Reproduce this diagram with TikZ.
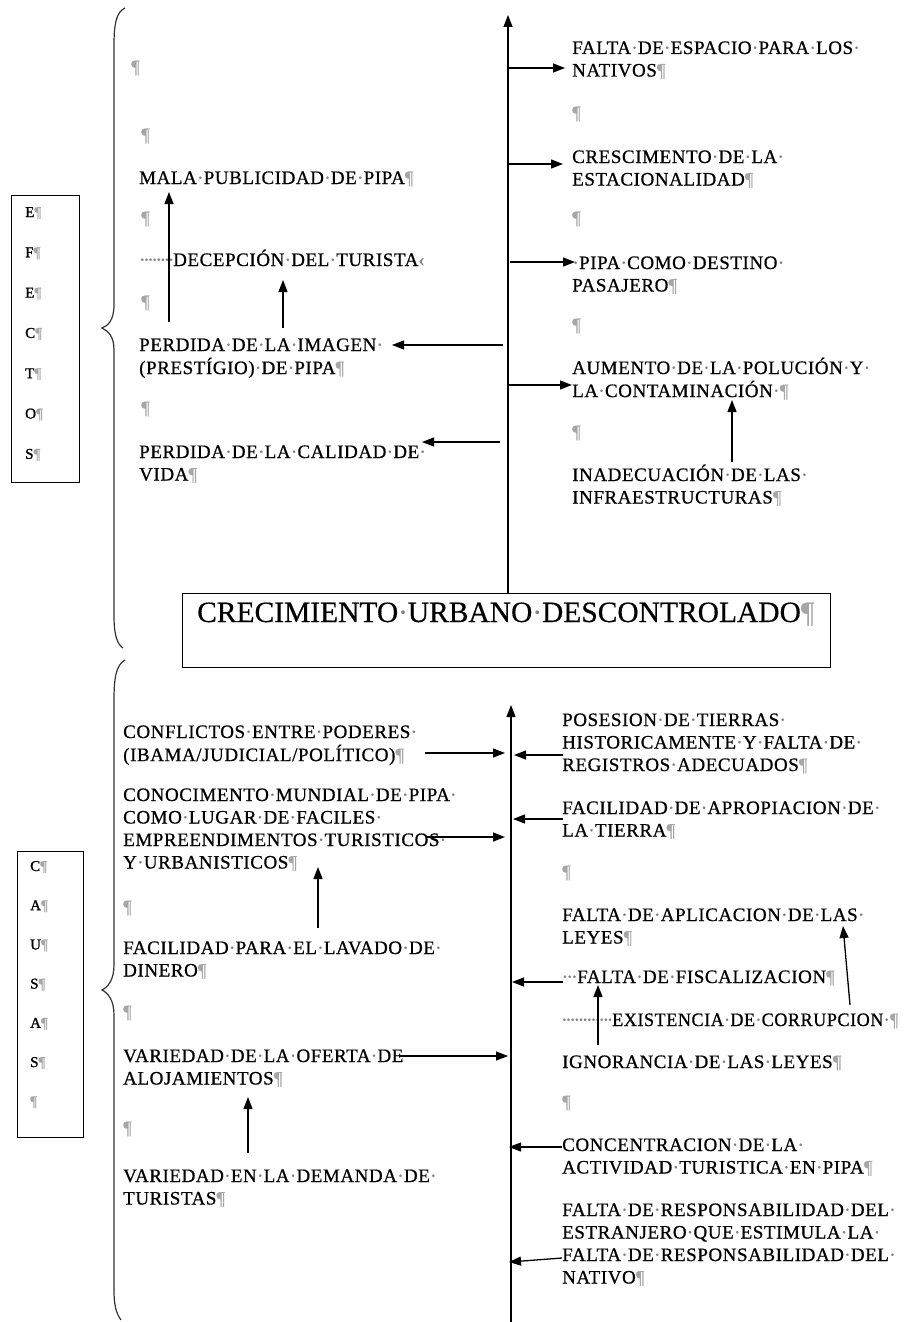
\documentclass[tikz,border=0pt]{standalone}
\usepackage{fontspec}
\setmainfont{Liberation Serif}
\newfontfamily\bodyfont[LetterSpace=3,FakeBold=0.7]{Liberation Serif}
\newfontfamily\boxfont[FakeBold=1.2]{Liberation Serif}
\newfontfamily\titlefont[FakeBold=0.4]{Liberation Serif}
\usetikzlibrary{arrows.meta}
\newcommand{\ml}[1]{\begin{tabular}[t]{@{}l@{}}#1\end{tabular}}
\newcommand{\dleader}[1]{\makebox[#1][l]{\color{gray}\xleaders\hbox to 4pt{\hss\char"B7\hss}\hfill}}
\catcode`\·=\active
\def·{\hbox to 1.3\fontdimen2\font{\hss\textcolor{gray}{\char"B7}\hss}}
\catcode`\¶=\active
\def¶{\textcolor{gray!70}{\char"B6}}
\begin{document}
\begin{tikzpicture}[x=1pt,y=-1pt,
  txt/.style={anchor=base west, inner sep=0pt, font=\bodyfont\fontsize{19}{22.5}\selectfont},
  arr/.style={line width=1.3pt, -{Triangle[length=12pt,width=9pt]}},
  brace/.style={line width=1.2pt, draw=black!80},
  lbl/.style={anchor=base west, inner sep=0pt, font=\boxfont\fontsize{15}{15}\selectfont},
  frame/.style={draw, line width=1pt}]
\useasboundingbox[fill=white] (0,0) rectangle (906,1322);

% ---------- left boxes ----------
\node[frame, anchor=north west, minimum width=68pt, minimum height=287pt, inner sep=0pt] (efbox) at (11,195) {};
\foreach \l [count=\i from 0] in {E,F,E,C,T,O,S}
  \node[lbl] (ef\i) at (25,{212+40.3*\i+5}) {\l¶};
\node[frame, anchor=north west, minimum width=66pt, minimum height=286pt, inner sep=0pt] (cabox) at (17,851) {};
\foreach \l [count=\i from 0] in {C,A,U,S,A,S}
  \node[lbl] (ca\i) at (30,{866+39.2*\i+5}) {\l¶};
\node[lbl] (ca6) at (30,{866+39.2*6+5}) {¶};

% ---------- braces ----------
\draw[brace] (125,8) .. controls (116,12) and (114,25) .. (114,45) -- (114,305)
  .. controls (114,320) and (108,326) .. (102,328)
  .. controls (108,331) and (114,336) .. (114,350) -- (114,615)
  .. controls (114,635) and (117,644) .. (123,648);
\draw[brace] (125,660) .. controls (116,665) and (114,678) .. (114,700) -- (114,965)
  .. controls (114,980) and (108,987) .. (102,990)
  .. controls (108,993) and (114,1000) .. (114,1015) -- (114,1290)
  .. controls (114,1305) and (116,1313) .. (121,1320);

% ---------- title ----------
\node[frame, anchor=north west, minimum width=648pt, minimum height=74pt, inner sep=0pt] (title) at (182,593) {};
\node[anchor=base west, inner sep=0pt, font=\titlefont\fontsize{29.5}{29.5}\selectfont] (titletxt) at (197,622) {CRECIMIENTO·URBANO·DESCONTROLADO¶};

% ---------- effects: left ----------
\node[txt] (L0) at (131,73) {¶};
\node[txt] (L1) at (141,141) {¶};
\node[txt] (L2) at (139,184) {MALA·PUBLICIDAD·DE·PIPA¶};
\node[txt] (L3) at (141,224) {¶};
\node[txt] (L4) at (140,266) {\dleader{33pt}DECEPCIÓN·DEL·TURISTA\textcolor{gray}{‹}};
\node[txt] (L5) at (141,308) {¶};
\node[txt] (L6) at (139,351) {\ml{PERDIDA·DE·LA·IMAGEN·\\(PRESTÍGIO)·DE·PIPA¶}};
\node[txt] (L7) at (141,414) {¶};
\node[txt] (L8) at (139,458) {\ml{PERDIDA·DE·LA·CALIDAD·DE·\\VIDA¶}};

% ---------- effects: right ----------
\node[txt] (R1) at (572,54) {\ml{FALTA·DE·ESPACIO·PARA·LOS·\\NATIVOS¶}};
\node[txt] (R2) at (572,119) {¶};
\node[txt] (R3) at (572,163) {\ml{CRESCIMENTO·DE·LA·\\ESTACIONALIDAD¶}};
\node[txt] (R4) at (572,224) {¶};
\node[txt] (R5) at (572,269) {\ml{·PIPA·COMO·DESTINO·\\PASAJERO¶}};
\node[txt] (R6) at (572,331) {¶};
\node[txt] (R7) at (572,374) {\ml{AUMENTO·DE·LA·POLUCIÓN·Y·\\LA·CONTAMINACIÓN·¶}};
\node[txt] (R8) at (572,438) {¶};
\node[txt] (R9) at (572,481) {\ml{INADECUACIÓN·DE·LAS·\\INFRAESTRUCTURAS¶}};

% ---------- causes: left ----------
\node[txt] (B1) at (123,738) {\ml{CONFLICTOS·ENTRE·PODERES·\\(IBAMA/JUDICIAL/POLÍTICO)¶}};
\node[txt] (B2) at (123,801) {\ml{CONOCIMENTO·MUNDIAL·DE·PIPA·\\COMO·LUGAR·DE·FACILES·\\EMPREENDIMENTOS·TURISTICOS·\\Y·URBANISTICOS¶}};
\node[txt] (B3) at (123,913) {¶};
\node[txt] (B4) at (123,954) {\ml{FACILIDAD·PARA·EL·LAVADO·DE·\\DINERO¶}};
\node[txt] (B5) at (123,1018) {¶};
\node[txt] (B6) at (123,1062) {\ml{VARIEDAD·DE·LA·OFERTA·DE\\ALOJAMIENTOS¶}};
\node[txt] (B7) at (123,1134) {¶};
\node[txt] (B8) at (123,1182) {\ml{VARIEDAD·EN·LA·DEMANDA·DE·\\TURISTAS¶}};

% ---------- causes: right ----------
\node[txt] (C1) at (562,726) {\ml{POSESION·DE·TIERRAS·\\HISTORICAMENTE·Y·FALTA·DE·\\REGISTROS·ADECUADOS¶}};
\node[txt] (C2) at (562,814) {\ml{FACILIDAD·DE·APROPIACION·DE·\\LA·TIERRA¶}};
\node[txt] (C3) at (562,878) {¶};
\node[txt] (C4) at (562,921) {\ml{FALTA·DE·APLICACION·DE·LAS·\\LEYES¶}};
\node[txt] (C5) at (562,983) {\dleader{15pt}FALTA·DE·FISCALIZACION¶};
\node[txt] (C6) at (562,1026) {\dleader{50pt}\resizebox{286pt}{\height}{EXISTENCIA·DE·CORRUPCION·¶}};
\node[txt] (C7) at (562,1068) {IGNORANCIA·DE·LAS·LEYES¶};
\node[txt] (C8) at (562,1108) {¶};
\node[txt] (C9) at (562,1151) {\ml{CONCENTRACION·DE·LA·\\ACTIVIDAD·TURISTICA·EN·PIPA¶}};
\node[txt] (C10) at (562,1216) {\ml{FALTA·DE·RESPONSABILIDAD·DEL·\\ESTRANJERO·QUE·ESTIMULA·LA·\\FALTA·DE·RESPONSABILIDAD·DEL·\\NATIVO¶}};

% ---------- trunks ----------
\coordinate (ttop) at (508,15);
\coordinate (tbot) at (508,593);
\draw[arr] (tbot) -- (ttop);
\coordinate (btop) at (511,705);
\coordinate (bbot) at (511,1322);
\draw[arr] (bbot) -- (btop);

% ---------- effect arrows ----------
\coordinate (a1s) at (509,68);   \coordinate (a1e) at (565,68);
\coordinate (a2s) at (509,164);  \coordinate (a2e) at (563,164);
\coordinate (a3s) at (510,262);  \coordinate (a3e) at (575,262);
\coordinate (a4s) at (508,385);  \coordinate (a4e) at (572,385);
\coordinate (a5s) at (732,462);  \coordinate (a5e) at (732,400);
\coordinate (a6s) at (503,345);  \coordinate (a6e) at (392,345);
\coordinate (a7s) at (500,442);  \coordinate (a7e) at (422,442);
\coordinate (a8s) at (169,322);  \coordinate (a8e) at (169,192);
\coordinate (a9s) at (283,328);  \coordinate (a9e) at (283,280);
\foreach \k in {1,...,9} \draw[arr] (a\k s) -- (a\k e);

% ---------- cause arrows ----------
\coordinate (d1s) at (425,753);   \coordinate (d1e) at (505,753);
\coordinate (d2s) at (563,755);   \coordinate (d2e) at (514,755);
\coordinate (d3s) at (427,837);   \coordinate (d3e) at (505,837);
\coordinate (d4s) at (563,819);   \coordinate (d4e) at (513,819);
\coordinate (d5s) at (318,928);   \coordinate (d5e) at (318,867);
\coordinate (d6s) at (400,1056);  \coordinate (d6e) at (508,1056);
\coordinate (d7s) at (248,1153);  \coordinate (d7e) at (248,1097);
\coordinate (d8s) at (563,982);   \coordinate (d8e) at (512,982);
\coordinate (d9s) at (598,1045);  \coordinate (d9e) at (598,985);
\coordinate (d10s) at (850,1005); \coordinate (d10e) at (843,926);
\coordinate (d11s) at (562,1147); \coordinate (d11e) at (509,1147);
\coordinate (d12s) at (562,1258); \coordinate (d12e) at (509,1262);
\foreach \k in {1,...,12} \draw[arr] (d\k s) -- (d\k e);
\end{tikzpicture}
\end{document}
